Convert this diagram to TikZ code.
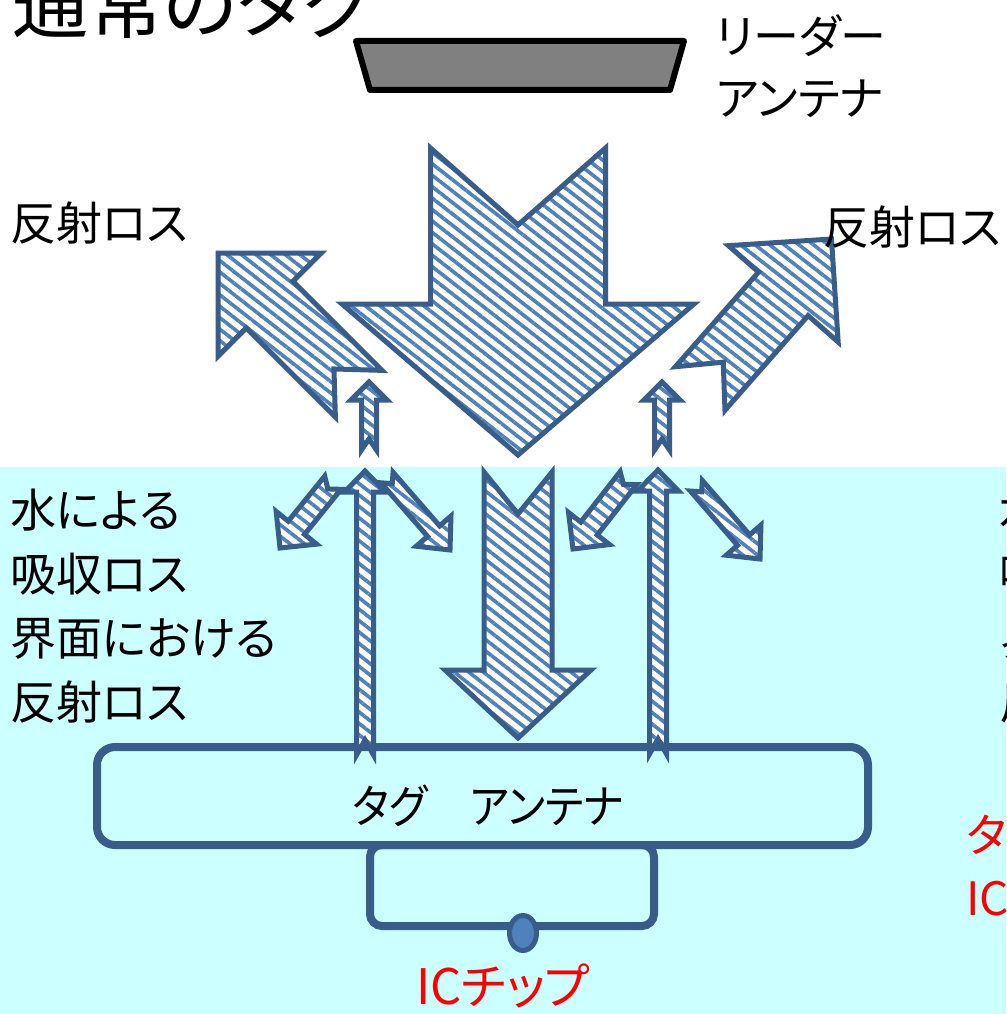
\documentclass[tikz,border=0pt]{standalone}
\usepackage{fontspec}
\setmainfont{Noto Sans CJK JP}[RawFeature={+palt}]
\usetikzlibrary{patterns.meta}
\definecolor{bgcyan}{RGB}{204,255,255}
\definecolor{edgeblue}{RGB}{56,93,138}
\definecolor{stripeblue}{RGB}{79,129,189}
\definecolor{readergray}{RGB}{128,128,128}
\tikzset{
  hatcharrow/.style={draw=edgeblue, line width=5pt, preaction={fill=white},
    pattern={Lines[angle=-38,distance=9pt,line width=3.6pt]}, pattern color=stripeblue},
  lbl/.style={inner sep=0pt, anchor=base west, font=\fontsize{46}{46}\selectfont},
  redlbl/.style={lbl, text=red},
}
% tip x, tip y, angle, length, shaft half width, head half width, head length, notch depth
\newcommand\barrow[8]{%
  \begin{scope}[shift={(#1,#2)}, rotate=#3]
    \draw[hatcharrow] (0,0) -- (-#7,#6) -- (-#7,#5) -- (-#4,#5) -- (-#4+#8,0)
      -- (-#4,-#5) -- (-#7,-#5) -- (-#7,-#6) -- cycle;
  \end{scope}}
\begin{document}
\begin{tikzpicture}[x=1pt,y=-1pt]
\useasboundingbox (0,0) rectangle (1006,1014);
\fill[white] (0,0) rectangle (1006,1014);
\fill[bgcyan] (0,467) rectangle (1006,1014);

% reader antenna
\draw[line width=6pt, fill=readergray, line join=round]
  (356,41) -- (684,41) -- (670,90) -- (370,90) -- cycle;

% arrows above interface
\barrow{518}{455}{-90}{307}{87.5}{176}{151}{77}
\barrow{218}{253}{135}{199}{33}{73}{73}{35}
\barrow{831.5}{239}{48.7}{199}{33}{73}{73}{35}
\barrow{369}{382}{90}{68}{7.5}{18}{18}{11}
\barrow{662}{382}{90}{68}{7.5}{18}{18}{11}

% tag antenna and IC loop
\draw[draw=edgeblue, line width=8pt, rounded corners=12pt] (370,845) rectangle (654,926);
\draw[draw=edgeblue, line width=8pt, fill=bgcyan, rounded corners=18pt] (97,747) rectangle (868,845);
\draw[draw=edgeblue, fill=stripeblue, line width=5pt] (523,933) ellipse [x radius=13.5pt, y radius=17.5pt];

% arrows below interface
\barrow{280}{548}{231}{84}{10.5}{26}{26}{8}
\barrow{450}{550}{-49}{96}{8}{23}{25}{8}
\barrow{573}{549}{232}{90}{10.5}{26}{26}{8}
\barrow{760}{559}{-49}{97}{8}{23}{25}{8}
\barrow{365}{471}{90}{284}{8.5}{20.5}{21}{15}
\barrow{658}{470}{90}{284}{8.5}{20.5}{21}{15}
\barrow{518}{738}{-90}{266}{34}{73}{68}{42}

% texts
\node[lbl, font=\fontsize{76}{76}\selectfont] (title) at (12,33) {通常のタグ};
\node[lbl] (rdr1) at (716,54) {リーダー};
\node[lbl] (rdr2) at (716,116) {アンテナ};
\node[lbl] (lossL) at (10,240) {反射ロス};
\node[lbl] (lossR) at (823,244) {反射ロス};
\node[lbl] (wl1) at (10,527) {水による};
\node[lbl] (wl2) at (10,591) {吸収ロス};
\node[lbl] (wl3) at (10,655) {界面における};
\node[lbl] (wl4) at (10,719) {反射ロス};
\node[lbl] (wr1) at (999,527) {水による};
\node[lbl] (wr2) at (999,591) {吸収ロス};
\node[lbl] (wr3) at (1000,655) {界面における};
\node[lbl] (wr4) at (999,719) {反射ロス};
\node[redlbl] (redr1) at (966,852) {タグ};
\node[redlbl] (redr2) at (966,915) {IC};
\node[lbl, anchor=base] (tagant) at (488,823) {\scalebox{0.92}[1]{タグ　アンテナ}};
\node[redlbl, anchor=base, font=\fontsize{49}{49}\selectfont] (icchip) at (503,1004) {ICチップ};
\end{tikzpicture}
\end{document}
